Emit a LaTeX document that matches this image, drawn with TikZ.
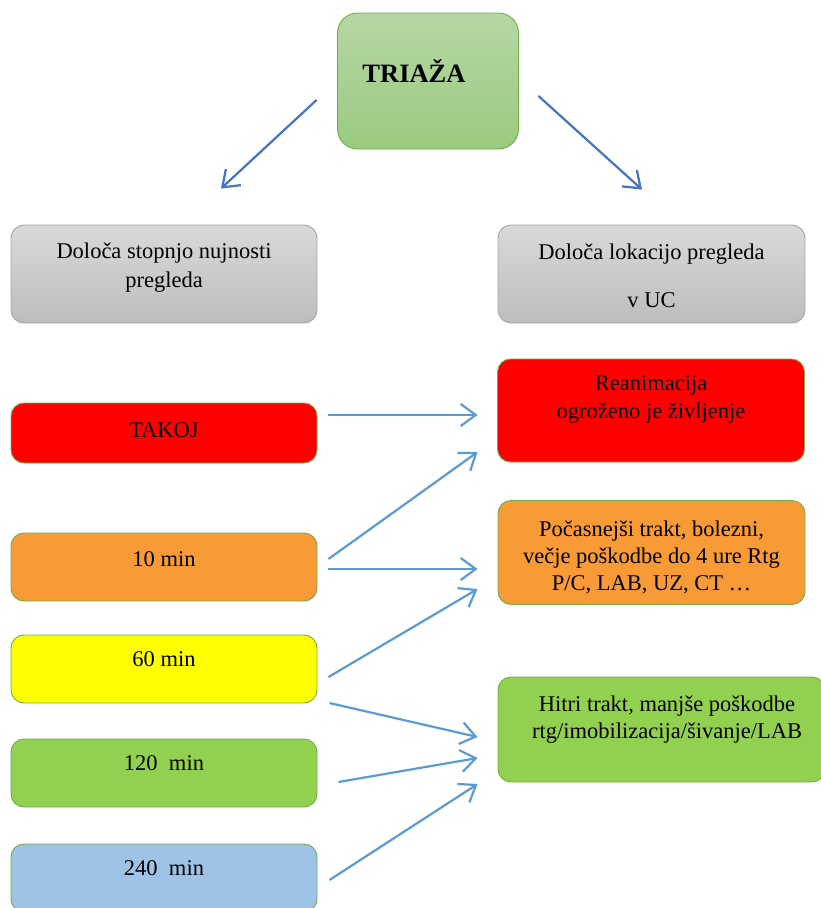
\documentclass[tikz,border=0pt]{standalone}
\usepackage{fontspec}
\setmainfont{Liberation Serif}
\usetikzlibrary{arrows.meta,calc}
\definecolor{triborder}{HTML}{70AD47}
\definecolor{tritop}{HTML}{B6D7A4}
\definecolor{tribot}{HTML}{9ACA7F}
\definecolor{graytop}{HTML}{D9D9D9}
\definecolor{graybot}{HTML}{BDBDBD}
\definecolor{grayborder}{HTML}{A6A6A6}
\definecolor{cred}{HTML}{FF0000}
\definecolor{corange}{HTML}{F89A36}
\definecolor{cyellow}{HTML}{FFFF00}
\definecolor{cgreen}{HTML}{92D050}
\definecolor{cblue}{HTML}{9DC3E6}
\definecolor{darkarrow}{HTML}{4472C4}
\definecolor{lightarrow}{HTML}{5B9BD5}
\tikzset{
  box/.style={draw=triborder, line width=0.9pt, rounded corners=13pt,
    rectangle, inner sep=0pt, text width=0pt},
  graybox/.style={box, draw=grayborder, top color=graytop, bottom color=graybot},
  txt/.style={align=center, inner sep=0pt, font=\fontsize{22.5}{28}\selectfont},
  arr/.style={line width=2.2pt, draw=lightarrow,
    -{Straight Barb[length=15pt,width=22pt,line width=2.2pt]}},
  darr/.style={arr, draw=darkarrow}
}
\begin{document}
\begin{tikzpicture}[x=1pt,y=-1pt]
\useasboundingbox (0,0) rectangle (821,908);

% top node
\node[box, rounded corners=20pt, top color=tritop, bottom color=tribot,
  minimum width=181pt, minimum height=136pt] (tri) at (428,81) {};
\node[txt, font=\fontsize{26.5}{30}\selectfont\bfseries] (tritxt) at (414,71) {TRIAŽA};

% grey headers
\node[graybox, minimum width=306pt, minimum height=98pt] (gL) at (164,274) {};
\node[txt, font=\fontsize{22.5}{29}\selectfont] (gLtxt) at (164,267.5) {Določa stopnjo nujnosti\\pregleda};
\node[graybox, minimum width=307pt, minimum height=98pt] (gR) at (651.5,274) {};
\node[txt] (gRtxt1) at (651.5,254) {Določa lokacijo pregleda};
\node[txt] (gRtxt2) at (651.5,300) {v UC};

% urgency levels
\node[box, fill=cred, minimum width=306pt, minimum height=60pt] (takoj) at (164,433) {};
\node[txt] (takojtxt) at (164,430) {TAKOJ};
\node[box, fill=corange, minimum width=306pt, minimum height=68pt] (b10) at (164,567) {};
\node[txt] (b10txt) at (164,559) {10 min};
\node[box, fill=cyellow, minimum width=306pt, minimum height=68pt] (b60) at (164,669) {};
\node[txt] (b60txt) at (164,659) {60 min};
\node[box, fill=cgreen, minimum width=306pt, minimum height=68pt] (b120) at (164,773) {};
\node[txt] (b120txt) at (164,763) {120\ \ min};
\node[box, fill=cblue, minimum width=306pt, minimum height=68pt] (b240) at (164,878) {};
\node[txt] (b240txt) at (164,868) {240\ \ min};

% locations
\node[box, fill=cred, minimum width=307pt, minimum height=103pt] (rean) at (651,410.5) {};
\node[txt] (reantxt) at (651,399) {Reanimacija\\ogroženo je življenje};
\node[box, fill=corange, minimum width=307pt, minimum height=104pt] (porange) at (651.5,552.5) {};
\node[txt, font=\fontsize{22.5}{27}\selectfont] (portxt) at (651.5,557) {Počasnejši trakt, bolezni,\\večje poškodbe do 4 ure Rtg\\P/C, LAB, UZ, CT \dots};
\node[box, fill=cgreen, minimum width=327pt, minimum height=105pt] (hitri) at (661.5,729.5) {};
\node[txt, font=\fontsize{22.5}{27}\selectfont] (hitritxt) at (667,719.5) {Hitri trakt, manjše poškodbe\\rtg/imobilizacija/šivanje/LAB};

% arrows from the top node
\draw[darr] ([shift={(-20.5,19)}]tri.west) -- ([shift={(57,-36)}]gL.north);
\draw[darr] ([shift={(19.5,15)}]tri.east) -- ([shift={(-9.5,-35)}]gR.north);

% urgency -> location
\draw[arr] ([shift={(11,-18)}]takoj.east) -- ([shift={(-19.5,4.5)}]rean.west);
\draw[arr] ([shift={(11,-8)}]b10.east) -- ([shift={(-19.5,41.5)}]rean.west);
\draw[arr] ([shift={(11,2)}]b10.east) -- ([shift={(-20,16.5)}]porange.west);
\draw[arr] ([shift={(11,8)}]b60.east) -- ([shift={(-20,36.5)}]porange.west);
\draw[arr] ([shift={(12,34)}]b60.east) -- ([shift={(-20,7.5)}]hitri.west);
\draw[arr] ([shift={(21,9)}]b120.east) -- ([shift={(-20,28.5)}]hitri.west);
\draw[arr] ([shift={(12,2)}]b240.east) -- ([shift={(-20,54.5)}]hitri.west);
\end{tikzpicture}
\end{document}
